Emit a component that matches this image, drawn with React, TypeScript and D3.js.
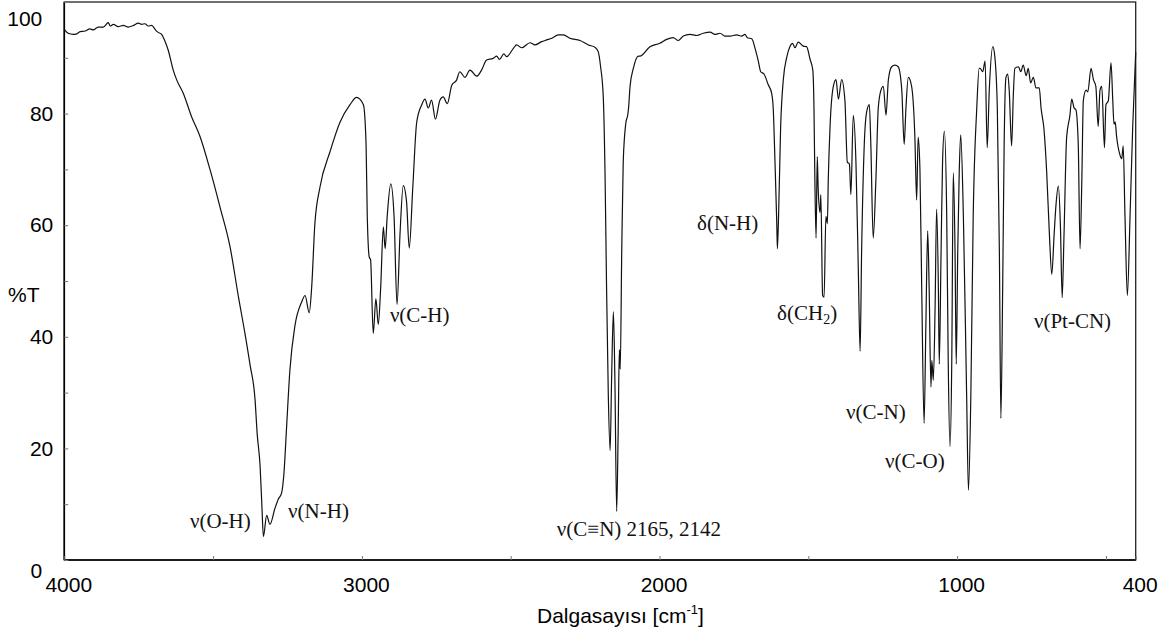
import React, { useRef, useEffect } from "react";
import { select, scaleLinear, axisLeft, axisBottom, line, curveMonotoneX } from "d3";

// [wavenumber cm-1, %T], high -> low wavenumber
const baselineRegion = [
  [4000, 95.1], [3987, 94.4], [3970, 94.2], [3958, 94.3], [3947, 94.7], [3930, 94.8],
  [3914, 95.2], [3903, 95.0], [3886, 95.5], [3869, 95.5], [3852, 96.3], [3846, 95.7],
  [3835, 96.0], [3819, 95.6], [3802, 95.8], [3785, 95.5], [3768, 95.8], [3751, 96.2],
  [3740, 96.0], [3729, 96.1], [3718, 95.7], [3706, 95.8], [3695, 95.1], [3686, 94.6],
  [3673, 94.2],
];

const ohNhBand = [
  [3662, 93.0], [3651, 91.4], [3634, 87.8], [3622, 86.0], [3600, 83.6], [3572, 79.4],
  [3544, 75.9], [3510, 69.9], [3477, 63.3], [3443, 56.1], [3415, 47.2], [3393, 40.6],
  [3376, 35.0], [3359, 28.7], [3352, 22.7], [3342, 16.7], [3336, 9.6], [3331, 4.2],
  [3320, 8.0], [3309, 6.4], [3292, 9.3], [3281, 10.9], [3270, 12.0], [3262, 15.5],
  [3253, 23.9], [3242, 34.0], [3225, 42.0], [3202, 46.3], [3191, 47.4], [3177, 44.3],
  [3169, 48.7],
];

const chBand = [
  [3158, 60.3], [3141, 66.8], [3107, 73.2], [3074, 78.4], [3040, 81.6], [3018, 82.9],
  [2995, 81.6], [2986, 74.5], [2982, 61.6], [2975, 54.2], [2971, 53.9], [2962, 40.6],
  [2953, 46.8], [2945, 42.2], [2937, 48.7], [2928, 59.7], [2922, 55.8], [2915, 61.6],
  [2903, 67.4], [2892, 61.6], [2882, 45.8], [2872, 58.4], [2861, 67.1], [2850, 64.2],
  [2841, 55.9], [2829, 66.8], [2816, 78.4], [2799, 81.6], [2788, 82.6], [2777, 81.0],
  [2766, 82.4], [2753, 79.0], [2738, 82.4], [2727, 83.0], [2713, 81.8],
];

const overtoneRegion = [
  [2698, 85.1], [2682, 86.0], [2671, 87.5], [2654, 86.5], [2637, 87.8], [2614, 86.7],
  [2598, 87.8], [2581, 89.6], [2559, 89.9], [2547, 90.3], [2538, 89.7], [2523, 90.7],
  [2514, 90.2], [2491, 91.7], [2480, 92.3], [2463, 91.8], [2435, 92.7], [2419, 92.3],
  [2396, 92.9], [2379, 93.2], [2362, 93.5], [2340, 94.1], [2323, 94.1], [2301, 93.5],
  [2267, 93.1], [2239, 92.3], [2217, 91.9], [2206, 91.1],
];

const cnBand = [
  [2198, 88.4], [2189, 83.0], [2183, 69.0], [2178, 49.0], [2172, 29.3], [2166, 19.6],
  [2161, 32.5], [2155, 44.5], [2150, 32.5], [2144, 8.7], [2139, 22.9], [2135, 37.7],
  [2132, 34.2], [2127, 55.1], [2122, 71.3], [2113, 78.4], [2107, 79.7], [2104, 81.0],
  [2099, 84.9], [2088, 88.1], [2071, 90.3],
];

const midRegion = [
  [2066, 90.3], [2032, 92.0], [1999, 92.6], [1976, 93.3], [1954, 93.6], [1937, 93.1],
  [1920, 93.9], [1898, 94.2], [1875, 94.0], [1853, 94.4], [1830, 94.6], [1814, 94.2],
  [1797, 94.4], [1780, 93.9], [1763, 93.9], [1741, 94.1], [1724, 93.9], [1713, 94.2],
  [1705, 93.6], [1690, 93.4], [1679, 91.7], [1668, 89.4], [1660, 87.5], [1649, 87.1],
  [1635, 85.2], [1623, 83.6], [1618, 81.0], [1612, 71.3], [1606, 60.3], [1604, 55.8],
  [1600, 61.6], [1593, 77.7], [1584, 86.1], [1573, 90.0], [1562, 92.0], [1553, 92.6],
  [1545, 91.8], [1534, 92.8], [1517, 92.1], [1506, 92.0], [1494, 89.7], [1485, 87.8],
];

const fingerprint = [
  [1481, 81.0], [1478, 68.1], [1474, 57.7], [1470, 72.3], [1467, 66.8], [1461, 62.3],
  [1458, 65.5], [1452, 47.4], [1447, 47.1], [1441, 61.6], [1436, 60.3], [1433, 68.1],
  [1427, 77.7], [1416, 84.9], [1407, 86.1], [1399, 82.6], [1388, 86.1], [1377, 82.3],
  [1369, 71.3], [1362, 71.0], [1357, 65.5], [1349, 79.7], [1340, 71.3], [1332, 51.9],
  [1326, 37.4], [1321, 55.1], [1312, 74.5], [1304, 80.3], [1295, 81.6], [1290, 74.5],
  [1282, 57.7], [1273, 68.1], [1265, 81.0], [1256, 84.2], [1248, 84.9], [1239, 79.7],
  [1231, 86.1], [1220, 88.4], [1209, 88.7], [1198, 88.4], [1186, 84.2], [1178, 74.5],
  [1172, 81.0], [1164, 86.5], [1153, 84.9], [1142, 75.8], [1136, 64.5], [1131, 75.8],
  [1125, 70.0], [1119, 48.7], [1111, 24.5], [1105, 42.2], [1099, 59.0], [1094, 48.7],
  [1088, 31.0], [1085, 35.8], [1080, 32.2], [1074, 45.5], [1069, 62.9], [1063, 48.7],
  [1060, 35.1], [1054, 55.1], [1049, 71.3], [1043, 76.8], [1035, 61.6], [1030, 35.8],
  [1024, 20.3], [1018, 35.8], [1013, 69.4], [1007, 55.1], [1003, 35.1], [998, 55.1],
  [993, 69.4], [988, 76.2], [979, 61.6], [968, 29.3], [962, 12.5], [954, 29.3],
  [946, 61.6], [934, 81.0], [926, 88.1],
];

const lowRegion = [
  [923, 88.1], [914, 87.5], [906, 89.4], [899, 73.9], [892, 84.2], [880, 92.0],
  [873, 90.0], [865, 81.0], [858, 55.1], [853, 25.4], [847, 48.7], [842, 74.5],
  [836, 86.5], [830, 87.1], [825, 84.2], [817, 74.2], [811, 83.6], [806, 88.1],
  [794, 88.4], [786, 87.5], [778, 88.7], [768, 86.8], [761, 88.1], [753, 85.5],
  [744, 86.5], [735, 84.6], [724, 84.6], [718, 81.0], [708, 77.1], [699, 69.4],
  [690, 58.4], [682, 51.2], [674, 58.4], [668, 63.5], [660, 67.0], [653, 60.0],
  [647, 47.0], [641, 58.0], [632, 75.8], [621, 79.7], [615, 82.6], [607, 81.0],
  [601, 80.7], [593, 74.5], [587, 55.8], [581, 68.1], [576, 82.3], [567, 84.2],
  [561, 83.9], [550, 88.1], [542, 86.1], [534, 84.9], [526, 77.7], [520, 84.2],
  [514, 84.9], [505, 73.9], [500, 81.6], [492, 82.3], [483, 89.1], [477, 82.3],
  [473, 78.1], [469, 78.5], [464, 75.8], [453, 72.6], [447, 71.9], [442, 74.2],
  [436, 61.6], [428, 47.4], [419, 61.6], [410, 77.7], [400, 91.0],
];

const xTickValues = [4000, 3500, 3000, 2500, 2000, 1500, 1000, 500, 400];
const xLabelValues = [4000, 3000, 2000, 1000, 400];
const yTickValues = [0, 10, 20, 30, 40, 50, 60, 70, 80, 90, 100];
const yLabelValues = [0, 20, 40, 60, 80, 100];

// band assignments, anchored at [wavenumber, %T]
const bandLabels = ["ν(O-H)", "ν(N-H)", "ν(C-H)", "ν(C≡N) 2165, 2142", "δ(N-H)", "δ(CH", "ν(C-N)", "ν(C-O)", "ν(Pt-CN)"];
const bandLabelWn = [3578, 3248, 2906, 2345, 1874, 1605, 1373, 1242, 742];
const bandLabelT = [5.7, 7.5, 42.7, 4.3, 59.1, 43.0, 25.3, 16.5, 41.6];

const width = 1169,
  height = 634;
const margin = { top: 2, right: 33.3, bottom: 74, left: 64.3 };
const sansFont = "'Liberation Sans', Arial, Helvetica, sans-serif";
const serifFont = "'Liberation Serif', 'Times New Roman', Times, serif";

function App() {
  const svgRef = useRef(null);

  useEffect(() => {
    const svg = select(svgRef.current);
    const spectrum = [
      ...baselineRegion, ...ohNhBand, ...chBand, ...overtoneRegion,
      ...cnBand, ...midRegion, ...fingerprint, ...lowRegion,
    ];

    const xScale = scaleLinear()
      .domain([4000, 400])
      .range([margin.left, width - margin.right]);
    const yScale = scaleLinear()
      .domain([0, 100])
      .range([height - margin.bottom, margin.top]);

    // axes
    const xAxis = axisBottom(xScale)
      .tickValues(xTickValues)
      .tickSizeInner(-4)
      .tickSizeOuter(0)
      .tickPadding(17)
      .tickFormat((d) => (xLabelValues.includes(d) ? String(d) : ""));
    const yAxis = axisLeft(yScale)
      .tickValues(yTickValues)
      .tickSizeInner(-4)
      .tickSizeOuter(0)
      .tickPadding(11)
      .tickFormat((d) => (yLabelValues.includes(d) ? String(d) : ""));

    const gx = svg.select(".x-axis")
      .attr("transform", `translate(0,${height - margin.bottom})`)
      .call(xAxis);
    const gy = svg.select(".y-axis")
      .attr("transform", `translate(${margin.left},0)`)
      .call(yAxis);

    [gx, gy].forEach((g) => {
      g.select(".domain").remove();
      g.selectAll(".tick line").attr("stroke", "#777").attr("stroke-width", 1);
      g.selectAll(".tick text")
        .attr("fill", "#000")
        .style("font-family", sansFont)
        .style("font-size", "21px");
    });
    gx.selectAll(".tick text").attr("dx", 4);
    // end labels pulled inside, like the original
    gy.selectAll(".tick text")
      .filter((d) => d === 100)
      .attr("x", -22)
      .attr("y", 17);
    gy.selectAll(".tick text")
      .filter((d) => d === 0)
      .attr("x", -22)
      .attr("y", 11);

    // frame
    svg.select(".frame")
      .attr("x", margin.left)
      .attr("y", margin.top)
      .attr("width", width - margin.right - margin.left)
      .attr("height", height - margin.bottom - margin.top)
      .attr("fill", "none")
      .attr("stroke", "#222")
      .attr("stroke-width", 1.3);
    svg.select(".left-line")
      .attr("x1", margin.left).attr("x2", margin.left)
      .attr("y1", margin.top).attr("y2", height - margin.bottom)
      .attr("stroke", "#000").attr("stroke-width", 1.6);
    svg.select(".bottom-line")
      .attr("x1", margin.left).attr("x2", width - margin.right)
      .attr("y1", height - margin.bottom).attr("y2", height - margin.bottom)
      .attr("stroke", "#000").attr("stroke-width", 1.6);

    // spectrum
    const spectrumLine = line()
      .x((d) => xScale(d[0]))
      .y((d) => yScale(d[1]))
      .curve(curveMonotoneX);

    svg.selectAll(".spectrum")
      .data([spectrum])
      .join("path")
      .attr("class", "spectrum")
      .attr("d", spectrumLine)
      .attr("fill", "none")
      .attr("stroke", "#111")
      .attr("stroke-width", 1.2)
      .attr("stroke-linejoin", "round");

    // band labels
    const labels = svg.select(".band-labels")
      .selectAll("text")
      .data(bandLabels)
      .join("text")
      .attr("x", (d, i) => xScale(bandLabelWn[i]))
      .attr("y", (d, i) => yScale(bandLabelT[i]))
      .attr("fill", "#111")
      .style("font-family", serifFont)
      .style("font-size", "21px")
      .text((d) => d);
    // CH2 subscript
    labels.filter((d) => d === "δ(CH").each(function () {
      const t = select(this);
      t.append("tspan").attr("dy", 4).style("font-size", "14px").text("2");
      t.append("tspan").attr("dy", -4).text(")");
    });
  }, []);

  return (
    <svg
      ref={svgRef}
      width={width}
      height={height}
      style={{ position: "absolute", left: 0, top: 0, background: "#fff" }}
    >
      <rect className="frame" />
      <line className="left-line" />
      <line className="bottom-line" />
      <g className="x-axis" />
      <g className="y-axis" />
      <g className="band-labels" />
      <text x={8} y={302} fill="#000" style={{ fontFamily: sansFont, fontSize: 21 }}>
        %T
      </text>
      <text x={537} y={623} fill="#000" style={{ fontFamily: sansFont, fontSize: 21 }}>
        Dalgasayısı [cm
        <tspan dy={-9} style={{ fontSize: 13 }}>-1</tspan>
        <tspan dy={9}>]</tspan>
      </text>
    </svg>
  );
}

export default App;
